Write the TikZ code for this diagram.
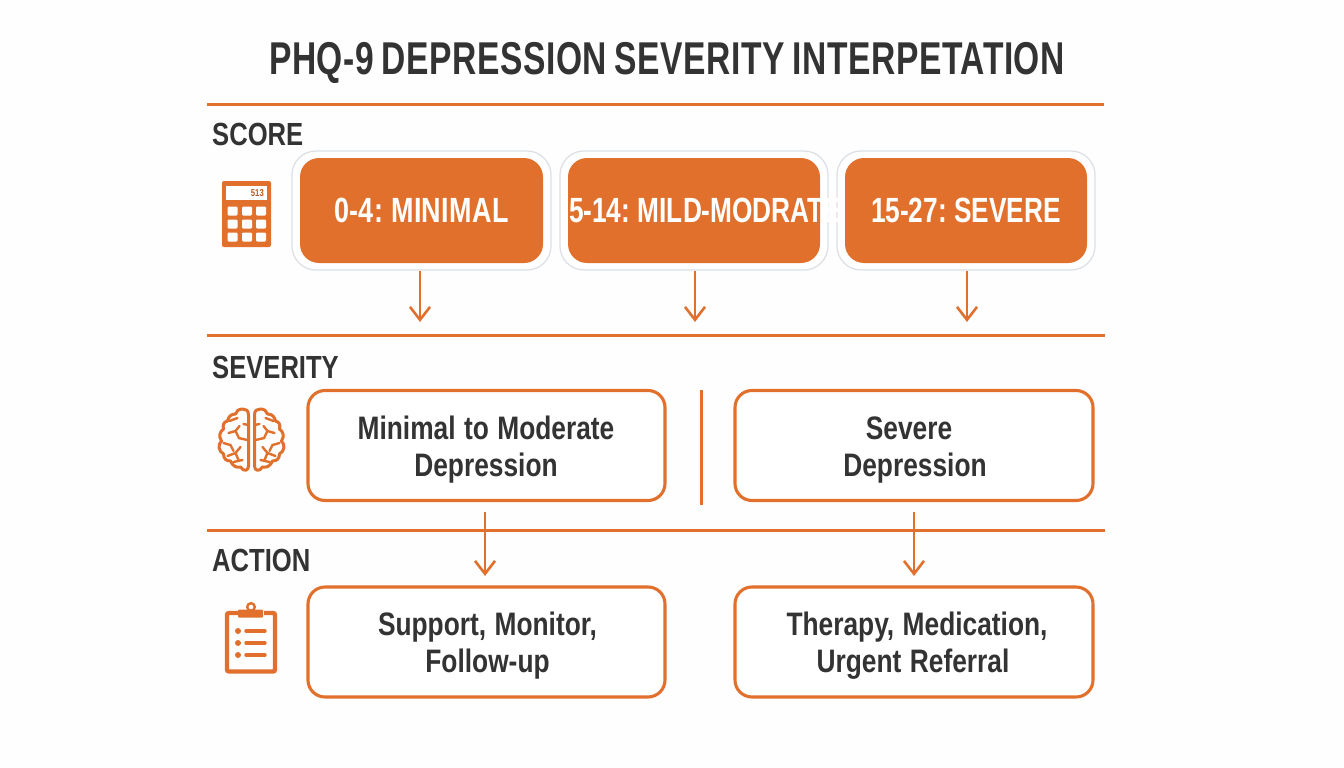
\documentclass[tikz,border=0pt]{standalone}
\usepackage{fontspec}
\setmainfont{Liberation Sans}
\newfontfamily\ftitle[FakeStretch=0.73,WordSpace=0.8,LetterSpace=1.2]{Liberation Sans}
\newfontfamily\fhead[FakeStretch=0.80]{Liberation Sans}
\newfontfamily\fscore[FakeStretch=0.77,WordSpace=0.7,LetterSpace=1]{Liberation Sans}
\newfontfamily\fscoreb[FakeStretch=0.75,WordSpace=0.7]{Liberation Sans}
\newfontfamily\fboxt[FakeStretch=0.81,WordSpace=1.15]{Liberation Sans}
\definecolor{org}{HTML}{E2702D}
\definecolor{ink}{HTML}{333333}
\definecolor{halo}{HTML}{DDE1E6}
\usetikzlibrary{arrows.meta,calc}
\tikzset{
 rule/.style={draw=org,line width=3pt},
 arrowline/.style={draw=org,line width=2.6pt,-{Straight Barb[length=13pt,width=20pt,line width=2.6pt]}},
 halobox/.style={draw=halo,line width=1.3pt,fill=white,rounded corners=24pt,minimum width=#1,minimum height=119pt,inner sep=0pt},
 scorebox/.style={fill=org,rounded corners=19pt,minimum width=#1,minimum height=105pt,inner sep=0pt,text=white,font=\fscore\bfseries\fontsize{35}{35}\selectfont},
 outbox/.style={draw=org,line width=3.1pt,rounded corners=17pt,fill=white,minimum width=357pt,minimum height=110pt,inner sep=0pt,align=center,text=ink},
 boxtext/.style={inner sep=0pt,align=center,text=ink,font=\fboxt\bfseries\fontsize{32.5}{37}\selectfont},
 head/.style={anchor=west,inner sep=0pt,text=ink,font=\fhead\bfseries\fontsize{32}{32}\selectfont},
 iconline/.style={draw=org,line width=3pt,line cap=round,line join=round},
}
\begin{document}
\begin{tikzpicture}[x=1pt,y=-1pt]
\useasboundingbox (0,0) rectangle (1344,768);
\fill[white!99!gray] (0,0) rectangle (1344,768);
\node[inner sep=0pt,text=ink,font=\ftitle\bfseries\fontsize{46}{46}\selectfont] (title) at (667,63) {PHQ-9 DEPRESSION SEVERITY INTERPETATION};
\coordinate (r1a) at (207,104); \coordinate (r1b) at (1104,104);
\coordinate (r2a) at (207,335); \coordinate (r2b) at (1105,335);
\coordinate (r3a) at (207,530); \coordinate (r3b) at (1105,530);
\coordinate (va) at (701,390); \coordinate (vb) at (701,505);
\draw[rule] (r1a)--(r1b); \draw[rule] (r2a)--(r2b); \draw[rule] (r3a)--(r3b); \draw[rule] (va)--(vb);
\node[head] (hscore) at (212,134) {SCORE};
\node[head] (hsev) at (212,367) {SEVERITY};
\node[head] (hact) at (212,560) {ACTION};
% score boxes
\node[halobox=259pt] (o1) at (421.5,210.5) {};
\node[halobox=268pt] (o2) at (694,210.5) {};
\node[halobox=258pt] (o3) at (966,210.5) {};
\node[scorebox=243pt] (s1) at (421.5,210.5) {0-4: MINIMAL};
\node[scorebox=252pt] (s2) at (694,210.5) {\fscoreb\makebox[252pt][l]{\hspace*{1pt}5-14: MILD-MODRATE}};
\node[scorebox=242pt] (s3) at (966,210.5) {\fscoreb 15-27: SEVERE};
% severity
\node[outbox] (m) at (486.5,445.5) {};
\node[outbox,minimum width=358pt] (d) at (914,445.5) {};
\node[outbox] (a) at (486.5,642) {};
\node[outbox,minimum width=358pt] (b) at (914,642) {};
\node[boxtext] (mt) at (486,450) {Minimal to Moderate\\Depression};
\node[boxtext] (dt) at (915,450) {Severe\hspace*{12pt}\\Depression};
\node[boxtext] (at) at (487.5,646) {Support, Monitor,\\Follow-up};
\node[boxtext] (bt) at (917,646) {Therapy, Medication,\\\hspace*{-2pt}Urgent Referral\hspace*{6pt}};
% arrows
\coordinate (c1) at (420,322); \coordinate (c2) at (695,322); \coordinate (c3) at (967,322);
\draw[arrowline] (o1.south -| c1)--(c1);
\draw[arrowline] (o2.south -| c2)--(c2);
\draw[arrowline] (o3.south -| c3)--(c3);
\coordinate (t1) at (485,512); \coordinate (t2) at (914,512);
\coordinate (e1) at (485,576); \coordinate (e2) at (914,576);
\draw[arrowline] (t1)--(e1);
\draw[arrowline] (t2)--(e2);
% calculator
\fill[org,rounded corners=2pt] (222,181) rectangle (271,247);
\fill[white] (226,186) rectangle (267,200);
\node[inner sep=0pt,text=org!80!black,font=\fscore\bfseries\fontsize{10}{10}\selectfont,anchor=east] (calc) at (264,193) {513};
\foreach \x in {232.5,247,261}\foreach \y in {211,224,237}
  \fill[white,rounded corners=1.2pt] (\x-5,\y-4.5) rectangle (\x+5,\y+4.5);
% brain
\foreach \s in {1,-1}{
\begin{scope}[shift={(251.5,0)},xscale=\s]
 \draw[iconline] (-3,415) .. controls (-3,410) and (-6,409) .. (-9,409)
   .. controls (-13,409) and (-15,411) .. (-16,414)
   .. controls (-21,414) and (-23,417) .. (-24,421)
   .. controls (-28,422) and (-29,425) .. (-28,429)
   .. controls (-32,432) and (-33,436) .. (-30,441)
   .. controls (-34,445) and (-33,451) .. (-28,454)
   .. controls (-28,459) and (-25,461) .. (-21,461)
   .. controls (-19,466) and (-15,468) .. (-11,467)
   .. controls (-8,472) and (-3,471) .. (-3,466) -- cycle;
 \draw[iconline,line width=2.4pt] (-22,421)--(-14,418);
 \draw[iconline,line width=2.4pt] (-3,425)--(-8,424);
 \draw[iconline,line width=2.4pt] (-23,433)--(-16,431)--(-12,426);
 \draw[iconline,line width=2.4pt] (-16,431)--(-13,437);
 \draw[iconline,line width=2.4pt] (-4,440)--(-13,438);
 \draw[iconline,line width=2.4pt] (-28,443)--(-21,445)--(-18,451);
 \draw[iconline,line width=2.4pt] (-24,456)--(-16,453)--(-11,447);
 \draw[iconline,line width=2.4pt] (-16,453)--(-13,460);
 \draw[iconline,line width=2.4pt] (-18,462)--(-9,460);
\end{scope}}
% clipboard
\draw[org,line width=4.4pt,rounded corners=2pt] (238,613) -- (227,613) -- (227,671.5) -- (275,671.5) -- (275,613) -- (264,613);
\fill[org,rounded corners=1pt] (238,609.5) rectangle (263,617.5);
\draw[org,line width=2.4pt] (251,607) circle (3.8pt);
\foreach \y in {631,643,655}{
 \fill[org] (238,\y) circle (3pt);
 \draw[org,line width=3.4pt,line cap=round] (246,\y)--(265,\y);
}
\end{tikzpicture}
\end{document}
